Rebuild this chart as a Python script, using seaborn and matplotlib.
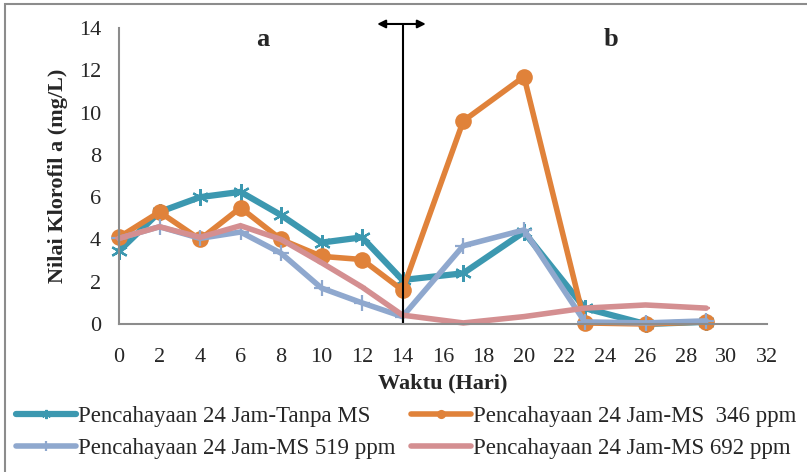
import matplotlib
matplotlib.use("Agg")
import matplotlib.pyplot as plt
import seaborn as sns
import pandas as pd
from matplotlib.patches import Rectangle

# ---- data ----
days = [0, 2, 4, 6, 8, 10, 12, 14, 17, 20, 23, 26, 29]
tanpa_ms = [3.45, 5.3, 6.0, 6.25, 5.15, 3.85, 4.1, 2.08, 2.4, 4.35, 0.75, 0.0, 0.1]
ms_346 = [4.1, 5.3, 4.0, 5.5, 4.0, 3.2, 3.05, 1.6, 9.6, 11.7, 0.05, 0.0, 0.1]
ms_519 = [4.05, 4.6, 4.05, 4.35, 3.35, 1.7, 1.0, 0.35, 3.7, 4.45, 0.1, 0.05, 0.15]
ms_692 = [4.05, 4.6, 4.1, 4.65, 4.0, 2.9, 1.75, 0.42, 0.05, 0.35, 0.75, 0.9, 0.75]
labels = ["Pencahayaan 24 Jam-Tanpa MS", "Pencahayaan 24 Jam-MS  346 ppm",
          "Pencahayaan 24 Jam-MS 519 ppm", "Pencahayaan 24 Jam-MS 692 ppm"]
x_ticks = list(range(0, 33, 2))
y_ticks = list(range(0, 15, 2))

sns.set_style("white")
plt.rcParams['font.family'] = ['Liberation Serif', 'DejaVu Serif']

W, H = 807, 472
fig = plt.figure(figsize=(W / 100, H / 100), dpi=100)
ax = fig.add_axes([119 / W, (H - 324) / H, (767 - 119) / W, (324 - 28) / H])

styles = [
    dict(color="#3C98B0", marker=(6, 2, 0), markersize=12, markeredgewidth=1.6, lw=4.5),
    dict(color="#E0823A", marker="o", markersize=12, markeredgewidth=0, lw=4.0),
    dict(color="#8FA8CE", marker="+", markersize=12, markeredgewidth=1.6, lw=4.0),
    dict(color="#D48F91", marker="_", markersize=6, markeredgewidth=1.6, lw=4.0),
]
series = [tanpa_ms, ms_346, ms_519, ms_692]

for vals, lab, st in zip(series, labels, styles):
    df = pd.DataFrame({"Hari": days, "Nilai": vals})
    sns.lineplot(data=df, x="Hari", y="Nilai", ax=ax, label=lab, clip_on=False,
                 color=st["color"], marker=st["marker"], markersize=st["markersize"],
                 markeredgewidth=st["markeredgewidth"], markeredgecolor=st["color"],
                 lw=st["lw"], solid_joinstyle="miter")

ax.set_xlim(0, 32)
ax.set_ylim(0, 14)
ax.set_xticks(x_ticks)
ax.set_yticks(y_ticks)
ax.tick_params(axis="x", length=0, labelsize=16, pad=17)
ax.tick_params(axis="y", length=0, labelsize=16, pad=13)
for s in ["top", "right"]:
    ax.spines[s].set_visible(False)
for s in ["left", "bottom"]:
    ax.spines[s].set_color("#8C8C8C")
    ax.spines[s].set_linewidth(1.5)

ax.set_xlabel("Waktu (Hari)", fontsize=16, fontweight="bold")
ax.set_ylabel("Nilai Klorofil a (mg/L)", fontsize=16, fontweight="bold")
ax.xaxis.set_label_coords(0.5, -(383 - 324) / 296, transform=ax.transAxes)
ax.xaxis.label.set_va("center")
ax.yaxis.set_label_coords(-(119 - 58) / 648, 0.5, transform=ax.transAxes)
ax.yaxis.label.set_va("center")

# divider line with double arrow
ax.plot([14, 14], [0, 14.19], color="black", lw=1.5, clip_on=False)
ax.annotate("", xy=(12.75, 14.19), xytext=(15.15, 14.19),
            arrowprops=dict(arrowstyle="<|-|>", color="black", lw=1.5,
                            mutation_scale=12, shrinkA=0, shrinkB=0),
            annotation_clip=False)
ax.text(7.1, 13.45, "a", fontsize=19, fontweight="bold", ha="center", va="center")
ax.text(24.3, 13.45, "b", fontsize=19, fontweight="bold", ha="center", va="center")

handles, labs = ax.get_legend_handles_labels()
ax.get_legend().remove()
order = [0, 2, 1, 3]
fig.legend([handles[i] for i in order], [labs[i] for i in order], ncol=2,
           loc="upper left", bbox_to_anchor=(16 / W, 1 - 406 / H),
           frameon=False, fontsize=16.5, handlelength=2.6, handletextpad=0.1,
           columnspacing=0.7, markerscale=0.55, labelspacing=0.47, borderaxespad=0,
           borderpad=0)

# chart border
fig.patches.append(Rectangle((5 / W, -0.1), 1.2, 1 - 4 / H + 0.1, transform=fig.transFigure,
                             fill=False, edgecolor="#8C8C8C", lw=1.5))

fig.savefig("out.png", dpi=100)
